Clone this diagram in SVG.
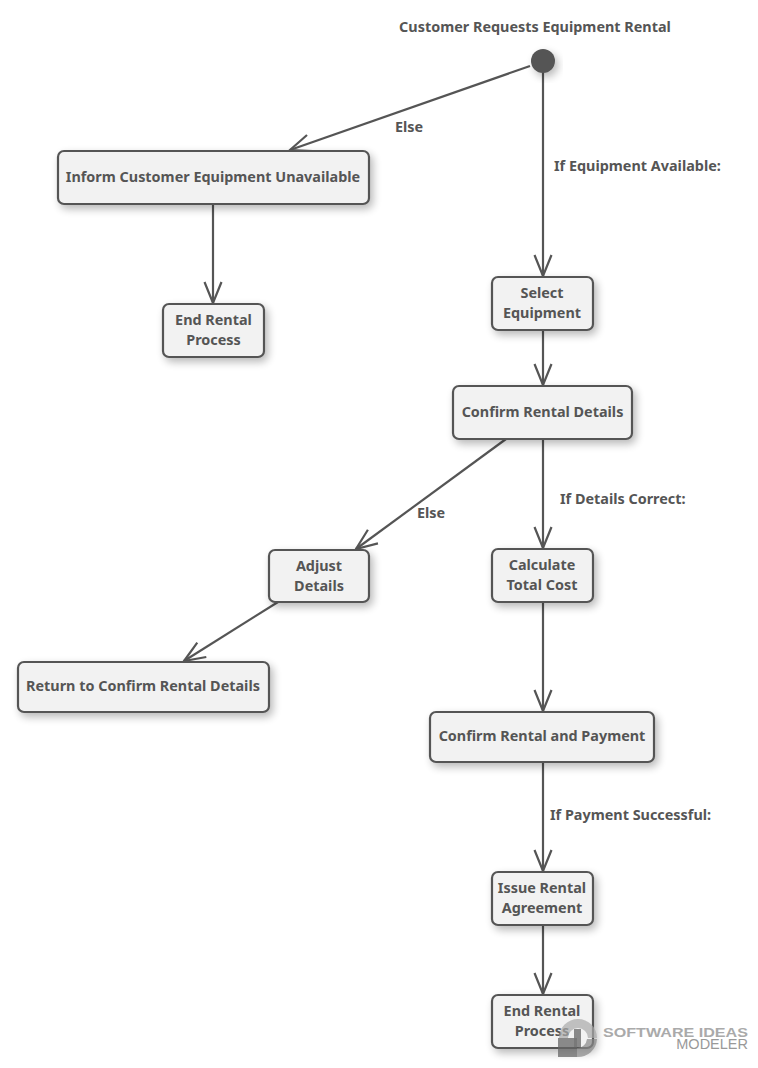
<svg xmlns="http://www.w3.org/2000/svg" width="758" height="1068" viewBox="0 0 758 1068">
<style>
text{font-family:"Noto Sans","Open Sans","Liberation Sans",sans-serif;font-weight:700;font-size:14.4px;fill:#555;text-anchor:middle}
.lbl{text-anchor:start}
.box{fill:#f2f2f2;stroke:#555;stroke-width:2.200}
.con{fill:none;stroke:#555;stroke-width:2.200}
</style>
<defs>
<filter id="sh" x="-30%" y="-30%" width="160%" height="170%"><feGaussianBlur in="SourceAlpha" stdDeviation="4.500"/><feOffset dx="3" dy="4"/><feComponentTransfer><feFuncA type="linear" slope="0.28"/></feComponentTransfer><feMerge><feMergeNode/><feMergeNode in="SourceGraphic"/></feMerge></filter>
<marker id="arr" markerUnits="userSpaceOnUse" viewBox="-22 -10 24 20" refX="0" refY="0" markerWidth="24" markerHeight="20" orient="auto"><path d="M-21,-8.500L0,0L-21,8.500" fill="none" stroke="#555" stroke-width="2.200"/></marker>
</defs>
<g id="connectors">
<path class="con" marker-end="url(#arr)" d="M530,66L290,150"/>
<path class="con" marker-end="url(#arr)" d="M543,72V276"/>
<path class="con" marker-end="url(#arr)" d="M213,204V303"/>
<path class="con" marker-end="url(#arr)" d="M543,330V385"/>
<path class="con" marker-end="url(#arr)" d="M506,439L356,549"/>
<path class="con" marker-end="url(#arr)" d="M543,439V548"/>
<path class="con" marker-end="url(#arr)" d="M278,602L184,661"/>
<path class="con" marker-end="url(#arr)" d="M543,602V711"/>
<path class="con" marker-end="url(#arr)" d="M543,762V871"/>
<path class="con" marker-end="url(#arr)" d="M543,925V994"/>
<text class="lbl" x="395" y="132">Else</text>
<text class="lbl" x="554" y="171">If Equipment Available:</text>
<text class="lbl" x="417" y="518">Else</text>
<text class="lbl" x="560" y="504">If Details Correct:</text>
<text class="lbl" x="550" y="820">If Payment Successful:</text>
</g>
<g id="start"><circle cx="543" cy="61" r="12" fill="#555" filter="url(#sh)"/><text x="535" y="32">Customer Requests Equipment Rental</text></g>
<g id="inform"><rect class="box" filter="url(#sh)" x="58" y="151" width="311" height="53" rx="6"/><text x="213" y="182">Inform Customer Equipment Unavailable</text></g>
<g id="end1"><rect class="box" filter="url(#sh)" x="163" y="304" width="101" height="53" rx="6"/><text x="213.500" y="325">End Rental</text><text x="213.500" y="345">Process</text></g>
<g id="select"><rect class="box" filter="url(#sh)" x="492" y="277" width="101" height="53" rx="6"/><text x="542" y="298">Select</text><text x="542" y="318">Equipment</text></g>
<g id="confirm"><rect class="box" filter="url(#sh)" x="453" y="386" width="179" height="53" rx="6"/><text x="542.500" y="417">Confirm Rental Details</text></g>
<g id="adjust"><rect class="box" filter="url(#sh)" x="269" y="550" width="100" height="52" rx="6"/><text x="319" y="571">Adjust</text><text x="319" y="591">Details</text></g>
<g id="calc"><rect class="box" filter="url(#sh)" x="492" y="549" width="101" height="53" rx="6"/><text x="542" y="570">Calculate</text><text x="542" y="590">Total Cost</text></g>
<g id="return"><rect class="box" filter="url(#sh)" x="18" y="662" width="251" height="50" rx="6"/><text x="143" y="691">Return to Confirm Rental Details</text></g>
<g id="payment"><rect class="box" filter="url(#sh)" x="430" y="712" width="224" height="50" rx="6"/><text x="542" y="741">Confirm Rental and Payment</text></g>
<g id="issue"><rect class="box" filter="url(#sh)" x="492" y="872" width="101" height="53" rx="6"/><text x="542" y="893">Issue Rental</text><text x="542" y="913">Agreement</text></g>
<g id="end2"><rect class="box" filter="url(#sh)" x="492" y="995" width="101" height="53" rx="6"/><text x="542" y="1016">End Rental</text><text x="542" y="1036">Process</text></g>
<g id="watermark">
<path d="M559,1038a19,19 0 0 1 38,0h-9a10,10 0 0 0 -20,0z" fill="#aaa" opacity=".7"/>
<path d="M577,1039h20a19,19 0 0 1 -20,18v-9a10,10 0 0 0 10,-9z" fill="#888" opacity=".7"/>
<rect x="558" y="1038" width="19" height="19" fill="#666" opacity=".75"/>
<rect x="574" y="1029" width="7" height="18" fill="#777" opacity=".85"/>
<text x="748" y="1037" textLength="145" lengthAdjust="spacingAndGlyphs" style="text-anchor:end;font-family:'Liberation Sans',sans-serif;font-size:13px;fill:#aaa;font-weight:700">SOFTWARE IDEAS</text>
<text x="748" y="1049" style="text-anchor:end;font-family:'Liberation Sans',sans-serif;font-size:14.500px;fill:#999;font-weight:400">MODELER</text>
</g>
</svg>
